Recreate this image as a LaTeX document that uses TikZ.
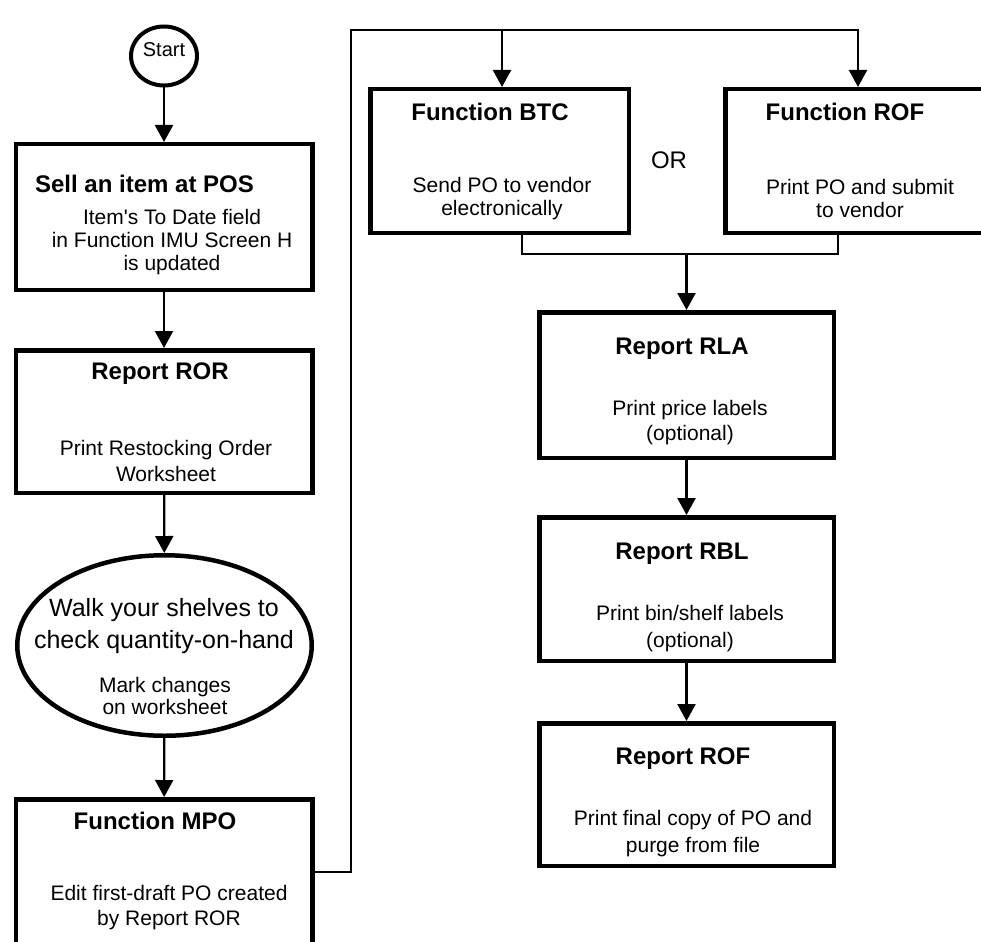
\documentclass[tikz,border=0pt]{standalone}
\usepackage{fontspec}
\setmainfont{Liberation Sans}
\usetikzlibrary{arrows.meta,shapes.geometric}
\begin{document}
\begin{tikzpicture}[x=1pt,y=-1pt,
  box/.style={draw, line width=4.5pt, rectangle, inner sep=0pt, minimum width=296.5pt},
  rbox/.style={draw, line width=4.5pt, rectangle, inner sep=0pt, minimum width=294.5pt},
  fbox/.style={draw, line width=4.5pt, rectangle, inner sep=0pt, minimum width=258.5pt, minimum height=143.5pt},
  conn/.style={line width=2.2pt},
  arr/.style={line width=2.2pt, -{Triangle[width=18pt,length=17pt]}},
  ttl/.style={font=\fontsize{24}{28}\selectfont\bfseries, inner sep=0pt},
  body/.style={font=\fontsize{21}{25}\selectfont, align=center, inner sep=0pt},
]
\useasboundingbox (0,0) rectangle (981,941);

% Left column
\node[draw, line width=4pt, ellipse, minimum width=66pt, minimum height=59pt, inner sep=0pt] (start) at (164,56) {};
\node[font=\fontsize{20}{24}\selectfont, inner sep=0pt] (starttxt) at (164,50) {Start};

\node[box, minimum height=145.5pt] (sell) at (164,217) {};
\node[ttl] (sellT) at (144.5,184) {Sell an item at POS};
\node[body, font=\fontsize{21}{23}\selectfont] (sellB) at (172,242) {Item\textquotesingle s To Date field\\in Function IMU Screen H\\is updated};

\node[box, minimum height=142.5pt] (ror) at (164,421.5) {};
\node[ttl] (rorT) at (160,374) {Report ROR};
\node[body, font=\fontsize{21}{26}\selectfont] (rorB) at (166,461) {Print Restocking Order\\Worksheet};

\node[draw, line width=4.5pt, ellipse, minimum width=294.5pt, minimum height=180.5pt, inner sep=0pt] (walk) at (164.5,645.5) {};
\node[body, font=\fontsize{25}{32}\selectfont] (walkT) at (164,626) {Walk your shelves to\\check quantity-on-hand};
\node[body, font=\fontsize{21}{22}\selectfont] (walkB) at (165,696) {Mark changes\\on worksheet};

\node[box, minimum height=145.5pt] (mpo) at (164,872) {};
\node[ttl] (mpoT) at (155,821) {Function MPO};
\node[body] (mpoB) at (169,907.5) {Edit first-draft PO created\\by Report ROR};

\draw[arr] (start) -- (sell);
\draw[arr] (sell) -- (ror);
\draw[arr] (ror) -- (walk);
\draw[arr] (walk) -- (mpo);

% Top right
\node[fbox] (btc) at (499.5,161) {};
\node[ttl] (btcT) at (490,112) {Function BTC};
\node[body, font=\fontsize{21}{23}\selectfont] (btcB) at (502,198.5) {Send PO to vendor\\electronically};

\node[fbox] (rof) at (854.5,161) {};
\node[ttl] (rofT) at (845,112) {Function ROF};
\node[body, font=\fontsize{21}{23}\selectfont] (rofB) at (860,198.5) {Print PO and submit\\to vendor};

\node[font=\fontsize{24}{28}\selectfont, inner sep=0pt] (or) at (669,160) {OR};

\coordinate (tl) at (351,30);
\coordinate (tb) at (502,30);
\coordinate (tr) at (858,30);
\draw[arr] (mpo.east) -| (tl) -| (tr |- rof.north);
\draw[arr] (tb) -- (tb |- btc.north);

% Right column
\node[rbox, minimum height=145.5pt] (rla) at (686.5,385) {};
\node[ttl] (rlaT) at (682,349) {Report RLA};
\node[body] (rlaB) at (690,422.5) {Print price labels\\(optional)};

\node[rbox, minimum height=143.5pt] (rbl) at (686.5,589) {};
\node[ttl] (rblT) at (682,554) {Report RBL};
\node[body, font=\fontsize{21}{27}\selectfont] (rblB) at (690,628.5) {Print bin/shelf labels\\(optional)};

\node[rbox, minimum height=142.5pt] (rrof) at (686.5,794.5) {};
\node[ttl] (rrofT) at (683,759) {Report ROF};
\node[body, font=\fontsize{21}{27}\selectfont] (rrofB) at (693,833.5) {Print final copy of PO and\\purge from file};

\coordinate (jl) at (522,254);
\coordinate (jr) at (838,254);
\coordinate (jm) at (686.5,254);
\draw[conn] (jl |- btc.south) -- (jl) -- (jr) -- (jr |- rof.south);
\draw[arr] (jm) -- (rla);
\draw[arr] (rla) -- (rbl);
\draw[arr] (rbl) -- (rrof);
\end{tikzpicture}
\end{document}
